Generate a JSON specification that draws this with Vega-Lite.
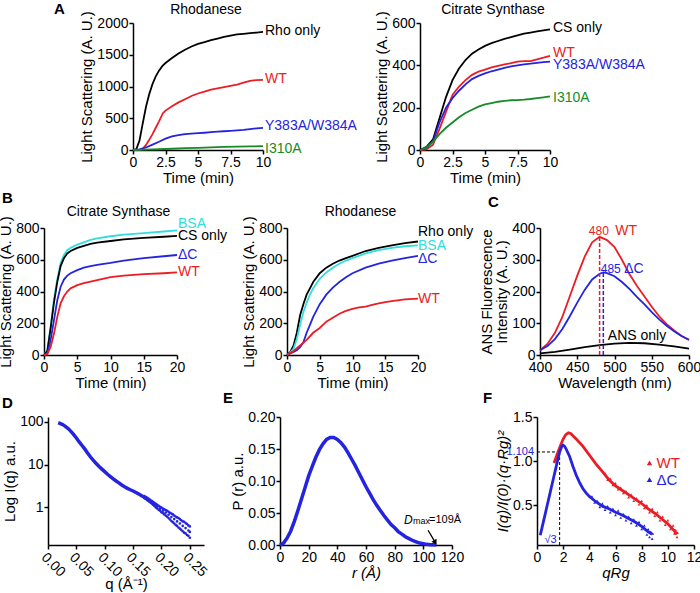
{
"$schema":"https://vega.github.io/schema/vega-lite/v6.json",
"padding":{"left":-2,"top":2,"right":0,"bottom":0},
"autosize":{"type":"pad"},
"config":{
 "font":"Liberation Sans",
 "view":{"stroke":null},
 "axis":{"grid":false,"domainColor":"#000","domainWidth":1.5,"tickColor":"#000","tickWidth":1.5,"tickSize":4,"labelFontSize":14,"labelColor":"#000","labelPadding":1,"titleFontSize":15,"titleFontWeight":"normal","titleColor":"#000","labelFlush":false,"labelOverlap":false},
 "axisX":{"titlePadding":1},
 "axisY":{"titlePadding":2},
 "title":{"fontSize":14,"fontWeight":"normal","color":"#000","offset":6,"frame":"group"},
 "text":{"fontSize":14,"baseline":"middle"},
 "line":{"strokeWidth":1.8}
},
"spacing":0,
"datasets":{
 "aRho":[
  {"s":"Rho only","t":0,"v":0},{"s":"Rho only","t":0.25,"v":10},{"s":"Rho only","t":0.5,"v":150},{"s":"Rho only","t":0.75,"v":420},{"s":"Rho only","t":1,"v":680},{"s":"Rho only","t":1.25,"v":880},{"s":"Rho only","t":1.5,"v":1040},{"s":"Rho only","t":1.75,"v":1160},{"s":"Rho only","t":2,"v":1250},{"s":"Rho only","t":2.25,"v":1320},{"s":"Rho only","t":2.5,"v":1370},{"s":"Rho only","t":3,"v":1450},{"s":"Rho only","t":3.5,"v":1520},{"s":"Rho only","t":4,"v":1580},{"s":"Rho only","t":4.5,"v":1630},{"s":"Rho only","t":5,"v":1670},{"s":"Rho only","t":5.5,"v":1700},{"s":"Rho only","t":6,"v":1730},{"s":"Rho only","t":6.5,"v":1755},{"s":"Rho only","t":7,"v":1780},{"s":"Rho only","t":7.5,"v":1800},{"s":"Rho only","t":8,"v":1820},{"s":"Rho only","t":8.5,"v":1830},{"s":"Rho only","t":9,"v":1840},{"s":"Rho only","t":9.5,"v":1850},{"s":"Rho only","t":10,"v":1860},
  {"s":"WT","t":0,"v":0},{"s":"WT","t":0.5,"v":0},{"s":"WT","t":0.75,"v":20},{"s":"WT","t":1,"v":80},{"s":"WT","t":1.25,"v":160},{"s":"WT","t":1.5,"v":250},{"s":"WT","t":1.75,"v":350},{"s":"WT","t":2,"v":450},{"s":"WT","t":2.3,"v":580},{"s":"WT","t":2.5,"v":620},{"s":"WT","t":3,"v":690},{"s":"WT","t":3.5,"v":750},{"s":"WT","t":4,"v":800},{"s":"WT","t":4.5,"v":850},{"s":"WT","t":5,"v":890},{"s":"WT","t":5.5,"v":920},{"s":"WT","t":6,"v":950},{"s":"WT","t":6.5,"v":970},{"s":"WT","t":7,"v":990},{"s":"WT","t":7.5,"v":1010},{"s":"WT","t":8,"v":1030},{"s":"WT","t":8.5,"v":1060},{"s":"WT","t":9,"v":1090},{"s":"WT","t":9.5,"v":1100},{"s":"WT","t":10,"v":1105},
  {"s":"Y383A/W384A","t":0,"v":0},{"s":"Y383A/W384A","t":0.5,"v":10},{"s":"Y383A/W384A","t":1,"v":40},{"s":"Y383A/W384A","t":1.5,"v":85},{"s":"Y383A/W384A","t":2,"v":130},{"s":"Y383A/W384A","t":2.5,"v":180},{"s":"Y383A/W384A","t":3,"v":215},{"s":"Y383A/W384A","t":3.5,"v":235},{"s":"Y383A/W384A","t":4,"v":250},{"s":"Y383A/W384A","t":4.5,"v":258},{"s":"Y383A/W384A","t":5,"v":265},{"s":"Y383A/W384A","t":5.5,"v":272},{"s":"Y383A/W384A","t":6,"v":280},{"s":"Y383A/W384A","t":6.5,"v":288},{"s":"Y383A/W384A","t":7,"v":295},{"s":"Y383A/W384A","t":7.5,"v":302},{"s":"Y383A/W384A","t":8,"v":310},{"s":"Y383A/W384A","t":8.5,"v":318},{"s":"Y383A/W384A","t":9,"v":330},{"s":"Y383A/W384A","t":9.5,"v":340},{"s":"Y383A/W384A","t":10,"v":350},
  {"s":"I310A","t":0,"v":0},{"s":"I310A","t":1,"v":5},{"s":"I310A","t":2,"v":12},{"s":"I310A","t":3,"v":20},{"s":"I310A","t":4,"v":28},{"s":"I310A","t":5,"v":35},{"s":"I310A","t":6,"v":42},{"s":"I310A","t":7,"v":48},{"s":"I310A","t":8,"v":52},{"s":"I310A","t":9,"v":56},{"s":"I310A","t":10,"v":60}
 ],
 "aRhoLab":[{"s":"Rho only","t":10,"v":1870},{"s":"WT","t":10,"v":1120},{"s":"Y383A/W384A","t":10,"v":375},{"s":"I310A","t":10,"v":20}],
 "aCS":[
  {"s":"CS only","t":0,"v":0},{"s":"CS only","t":0.5,"v":15},{"s":"CS only","t":1,"v":50},{"s":"CS only","t":1.5,"v":150},{"s":"CS only","t":2,"v":250},{"s":"CS only","t":2.5,"v":330},{"s":"CS only","t":3,"v":385},{"s":"CS only","t":3.5,"v":425},{"s":"CS only","t":4,"v":455},{"s":"CS only","t":4.5,"v":475},{"s":"CS only","t":5,"v":492},{"s":"CS only","t":5.5,"v":505},{"s":"CS only","t":6,"v":515},{"s":"CS only","t":6.5,"v":525},{"s":"CS only","t":7,"v":533},{"s":"CS only","t":7.5,"v":542},{"s":"CS only","t":8,"v":550},{"s":"CS only","t":8.5,"v":555},{"s":"CS only","t":9,"v":560},{"s":"CS only","t":9.5,"v":565},{"s":"CS only","t":10,"v":570},
  {"s":"WT","t":0,"v":0},{"s":"WT","t":0.5,"v":3},{"s":"WT","t":1,"v":25},{"s":"WT","t":1.5,"v":100},{"s":"WT","t":2,"v":180},{"s":"WT","t":2.5,"v":260},{"s":"WT","t":3,"v":300},{"s":"WT","t":3.5,"v":330},{"s":"WT","t":4,"v":355},{"s":"WT","t":4.5,"v":370},{"s":"WT","t":5,"v":380},{"s":"WT","t":5.5,"v":390},{"s":"WT","t":6,"v":398},{"s":"WT","t":6.5,"v":404},{"s":"WT","t":7,"v":410},{"s":"WT","t":7.5,"v":418},{"s":"WT","t":8,"v":420},{"s":"WT","t":8.5,"v":420},{"s":"WT","t":9,"v":428},{"s":"WT","t":9.5,"v":436},{"s":"WT","t":10,"v":445},
  {"s":"Y383A/W384A","t":0,"v":0},{"s":"Y383A/W384A","t":0.5,"v":10},{"s":"Y383A/W384A","t":1,"v":40},{"s":"Y383A/W384A","t":1.5,"v":130},{"s":"Y383A/W384A","t":2,"v":200},{"s":"Y383A/W384A","t":2.5,"v":245},{"s":"Y383A/W384A","t":3,"v":280},{"s":"Y383A/W384A","t":3.5,"v":310},{"s":"Y383A/W384A","t":4,"v":335},{"s":"Y383A/W384A","t":4.5,"v":350},{"s":"Y383A/W384A","t":5,"v":362},{"s":"Y383A/W384A","t":5.5,"v":372},{"s":"Y383A/W384A","t":6,"v":380},{"s":"Y383A/W384A","t":6.5,"v":388},{"s":"Y383A/W384A","t":7,"v":395},{"s":"Y383A/W384A","t":7.5,"v":400},{"s":"Y383A/W384A","t":8,"v":405},{"s":"Y383A/W384A","t":8.5,"v":408},{"s":"Y383A/W384A","t":9,"v":412},{"s":"Y383A/W384A","t":9.5,"v":415},{"s":"Y383A/W384A","t":10,"v":418},
  {"s":"I310A","t":0,"v":0},{"s":"I310A","t":0.5,"v":12},{"s":"I310A","t":1,"v":40},{"s":"I310A","t":1.5,"v":75},{"s":"I310A","t":2,"v":105},{"s":"I310A","t":2.5,"v":130},{"s":"I310A","t":3,"v":155},{"s":"I310A","t":3.5,"v":175},{"s":"I310A","t":4,"v":190},{"s":"I310A","t":4.5,"v":205},{"s":"I310A","t":5,"v":215},{"s":"I310A","t":5.5,"v":222},{"s":"I310A","t":6,"v":228},{"s":"I310A","t":6.5,"v":232},{"s":"I310A","t":7,"v":235},{"s":"I310A","t":7.5,"v":236},{"s":"I310A","t":8,"v":238},{"s":"I310A","t":8.5,"v":241},{"s":"I310A","t":9,"v":245},{"s":"I310A","t":9.5,"v":249},{"s":"I310A","t":10,"v":253}
 ],
 "aCSLab":[{"s":"CS only","t":10,"v":575},{"s":"WT","t":10,"v":460},{"s":"Y383A/W384A","t":10,"v":400},{"s":"I310A","t":10,"v":245}],
 "bCS":[
  {"s":"BSA","t":0,"v":0},{"s":"BSA","t":0.5,"v":30},{"s":"BSA","t":1,"v":180},{"s":"BSA","t":1.5,"v":350},{"s":"BSA","t":2,"v":480},{"s":"BSA","t":2.5,"v":580},{"s":"BSA","t":3,"v":630},{"s":"BSA","t":3.5,"v":660},{"s":"BSA","t":4,"v":675},{"s":"BSA","t":5,"v":695},{"s":"BSA","t":6,"v":710},{"s":"BSA","t":7,"v":725},{"s":"BSA","t":8,"v":735},{"s":"BSA","t":10,"v":748},{"s":"BSA","t":12,"v":758},{"s":"BSA","t":15,"v":768},{"s":"BSA","t":18,"v":778},{"s":"BSA","t":20,"v":785},
  {"s":"CS only","t":0,"v":0},{"s":"CS only","t":0.5,"v":25},{"s":"CS only","t":1,"v":170},{"s":"CS only","t":1.5,"v":330},{"s":"CS only","t":2,"v":460},{"s":"CS only","t":2.5,"v":560},{"s":"CS only","t":3,"v":610},{"s":"CS only","t":3.5,"v":640},{"s":"CS only","t":4,"v":655},{"s":"CS only","t":5,"v":675},{"s":"CS only","t":6,"v":688},{"s":"CS only","t":7,"v":700},{"s":"CS only","t":8,"v":708},{"s":"CS only","t":10,"v":718},{"s":"CS only","t":12,"v":728},{"s":"CS only","t":15,"v":738},{"s":"CS only","t":18,"v":745},{"s":"CS only","t":20,"v":750},
  {"s":"ΔC","t":0,"v":0},{"s":"ΔC","t":0.5,"v":10},{"s":"ΔC","t":1,"v":95},{"s":"ΔC","t":1.5,"v":220},{"s":"ΔC","t":2,"v":345},{"s":"ΔC","t":2.5,"v":430},{"s":"ΔC","t":3,"v":475},{"s":"ΔC","t":3.5,"v":500},{"s":"ΔC","t":4,"v":515},{"s":"ΔC","t":5,"v":535},{"s":"ΔC","t":6,"v":550},{"s":"ΔC","t":7,"v":560},{"s":"ΔC","t":8,"v":568},{"s":"ΔC","t":10,"v":580},{"s":"ΔC","t":12,"v":595},{"s":"ΔC","t":15,"v":610},{"s":"ΔC","t":18,"v":622},{"s":"ΔC","t":20,"v":630},
  {"s":"WT","t":0,"v":0},{"s":"WT","t":0.5,"v":5},{"s":"WT","t":1,"v":50},{"s":"WT","t":1.5,"v":135},{"s":"WT","t":2,"v":240},{"s":"WT","t":2.5,"v":325},{"s":"WT","t":3,"v":370},{"s":"WT","t":3.5,"v":400},{"s":"WT","t":4,"v":420},{"s":"WT","t":5,"v":440},{"s":"WT","t":6,"v":452},{"s":"WT","t":7,"v":462},{"s":"WT","t":8,"v":472},{"s":"WT","t":10,"v":490},{"s":"WT","t":12,"v":500},{"s":"WT","t":15,"v":510},{"s":"WT","t":18,"v":515},{"s":"WT","t":20,"v":520}
 ],
 "bCSLab":[{"s":"BSA","t":20,"v":827},{"s":"CS only","t":20,"v":751},{"s":"ΔC","t":20,"v":632},{"s":"WT","t":20,"v":520}],
 "bRho":[
  {"s":"Rho only","t":0,"v":0},{"s":"Rho only","t":0.5,"v":20},{"s":"Rho only","t":1,"v":60},{"s":"Rho only","t":1.5,"v":140},{"s":"Rho only","t":2,"v":250},{"s":"Rho only","t":2.5,"v":320},{"s":"Rho only","t":3,"v":380},{"s":"Rho only","t":3.5,"v":420},{"s":"Rho only","t":4,"v":460},{"s":"Rho only","t":5,"v":515},{"s":"Rho only","t":6,"v":550},{"s":"Rho only","t":7,"v":575},{"s":"Rho only","t":8,"v":595},{"s":"Rho only","t":9,"v":610},{"s":"Rho only","t":10,"v":625},{"s":"Rho only","t":12,"v":655},{"s":"Rho only","t":14,"v":675},{"s":"Rho only","t":16,"v":690},{"s":"Rho only","t":18,"v":705},{"s":"Rho only","t":20,"v":715},
  {"s":"BSA","t":0,"v":0},{"s":"BSA","t":0.5,"v":15},{"s":"BSA","t":1,"v":40},{"s":"BSA","t":1.5,"v":100},{"s":"BSA","t":2,"v":190},{"s":"BSA","t":2.5,"v":270},{"s":"BSA","t":3,"v":330},{"s":"BSA","t":3.5,"v":380},{"s":"BSA","t":4,"v":420},{"s":"BSA","t":5,"v":480},{"s":"BSA","t":6,"v":520},{"s":"BSA","t":7,"v":550},{"s":"BSA","t":8,"v":575},{"s":"BSA","t":9,"v":595},{"s":"BSA","t":10,"v":610},{"s":"BSA","t":12,"v":640},{"s":"BSA","t":14,"v":660},{"s":"BSA","t":16,"v":675},{"s":"BSA","t":18,"v":685},{"s":"BSA","t":20,"v":690},
  {"s":"ΔC","t":0,"v":0},{"s":"ΔC","t":1,"v":20},{"s":"ΔC","t":1.5,"v":30},{"s":"ΔC","t":2,"v":50},{"s":"ΔC","t":2.5,"v":80},{"s":"ΔC","t":3,"v":140},{"s":"ΔC","t":3.5,"v":190},{"s":"ΔC","t":4,"v":240},{"s":"ΔC","t":5,"v":320},{"s":"ΔC","t":6,"v":380},{"s":"ΔC","t":7,"v":425},{"s":"ΔC","t":8,"v":460},{"s":"ΔC","t":9,"v":490},{"s":"ΔC","t":10,"v":515},{"s":"ΔC","t":12,"v":550},{"s":"ΔC","t":14,"v":575},{"s":"ΔC","t":16,"v":595},{"s":"ΔC","t":18,"v":610},{"s":"ΔC","t":20,"v":625},
  {"s":"WT","t":0,"v":0},{"s":"WT","t":1,"v":25},{"s":"WT","t":2,"v":60},{"s":"WT","t":3,"v":95},{"s":"WT","t":4,"v":140},{"s":"WT","t":5,"v":170},{"s":"WT","t":6,"v":210},{"s":"WT","t":7,"v":235},{"s":"WT","t":8,"v":260},{"s":"WT","t":9,"v":278},{"s":"WT","t":10,"v":290},{"s":"WT","t":11,"v":300},{"s":"WT","t":12,"v":305},{"s":"WT","t":13,"v":315},{"s":"WT","t":14,"v":325},{"s":"WT","t":15,"v":333},{"s":"WT","t":16,"v":340},{"s":"WT","t":18,"v":350},{"s":"WT","t":20,"v":355}
 ],
 "bRhoLab":[{"s":"Rho only","t":20,"v":775},{"s":"BSA","t":20,"v":686},{"s":"ΔC","t":20,"v":602},{"s":"WT","t":20,"v":354}],
 "cANS":[
  {"s":"WT","w":400,"v":15},{"s":"WT","w":410,"v":35},{"s":"WT","w":420,"v":70},{"s":"WT","w":430,"v":120},{"s":"WT","w":440,"v":185},{"s":"WT","w":450,"v":250},{"s":"WT","w":460,"v":310},{"s":"WT","w":470,"v":355},{"s":"WT","w":480,"v":372},{"s":"WT","w":490,"v":362},{"s":"WT","w":500,"v":340},{"s":"WT","w":510,"v":300},{"s":"WT","w":520,"v":255},{"s":"WT","w":530,"v":218},{"s":"WT","w":540,"v":185},{"s":"WT","w":550,"v":152},{"s":"WT","w":560,"v":122},{"s":"WT","w":570,"v":97},{"s":"WT","w":580,"v":77},{"s":"WT","w":590,"v":60},{"s":"WT","w":600,"v":47},
  {"s":"ΔC","w":400,"v":15},{"s":"ΔC","w":410,"v":28},{"s":"ΔC","w":420,"v":50},{"s":"ΔC","w":430,"v":82},{"s":"ΔC","w":440,"v":122},{"s":"ΔC","w":450,"v":165},{"s":"ΔC","w":460,"v":205},{"s":"ΔC","w":470,"v":238},{"s":"ΔC","w":480,"v":256},{"s":"ΔC","w":485,"v":260},{"s":"ΔC","w":490,"v":258},{"s":"ΔC","w":500,"v":248},{"s":"ΔC","w":510,"v":230},{"s":"ΔC","w":520,"v":208},{"s":"ΔC","w":530,"v":183},{"s":"ΔC","w":540,"v":160},{"s":"ΔC","w":550,"v":135},{"s":"ΔC","w":560,"v":112},{"s":"ΔC","w":570,"v":92},{"s":"ΔC","w":580,"v":75},{"s":"ΔC","w":590,"v":60},{"s":"ΔC","w":600,"v":48},
  {"s":"ANS only","w":400,"v":5},{"s":"ANS only","w":420,"v":10},{"s":"ANS only","w":440,"v":17},{"s":"ANS only","w":460,"v":25},{"s":"ANS only","w":480,"v":31},{"s":"ANS only","w":500,"v":36},{"s":"ANS only","w":520,"v":38},{"s":"ANS only","w":540,"v":37},{"s":"ANS only","w":560,"v":33},{"s":"ANS only","w":580,"v":27},{"s":"ANS only","w":600,"v":20}
 ],
 "cRule":[{"s":"WT","w":480,"v":0,"v2":372},{"s":"ΔC","w":485,"v":0,"v2":260}],
 "cNum":[{"s":"WT","w":479,"v":391,"txt":"480"},{"s":"ΔC","w":495,"v":271,"txt":"485"}],
 "cName":[{"s":"WT","w":501,"v":391,"txt":"WT"},{"s":"ΔC","w":513,"v":271,"txt":"ΔC"},{"s":"ANS only","w":491,"v":60,"txt":"ANS only"}],
 "dSaxs":[
  {"q":0.018,"i":96},{"q":0.02,"i":94},{"q":0.025,"i":88},{"q":0.03,"i":80},{"q":0.035,"i":71},{"q":0.04,"i":61},{"q":0.045,"i":51},{"q":0.05,"i":42},{"q":0.055,"i":34},{"q":0.06,"i":28},{"q":0.065,"i":23},{"q":0.07,"i":18.5},{"q":0.075,"i":15},{"q":0.08,"i":12.5},{"q":0.085,"i":10.5},{"q":0.09,"i":9.0},{"q":0.095,"i":7.8},{"q":0.1,"i":6.8},{"q":0.105,"i":5.9},{"q":0.11,"i":5.2},{"q":0.115,"i":4.6},{"q":0.12,"i":4.1},{"q":0.125,"i":3.7},{"q":0.13,"i":3.3},{"q":0.135,"i":3.0},{"q":0.14,"i":2.75},{"q":0.145,"i":2.55},{"q":0.15,"i":2.38},{"q":0.155,"i":2.2},{"q":0.16,"i":2.02},{"q":0.165,"i":1.85},{"q":0.17,"i":1.7},{"q":0.175,"i":1.54},{"q":0.18,"i":1.38},{"q":0.185,"i":1.22},{"q":0.19,"i":1.08}
 ],
 "dNoise":[
  {"q":0.17,"i":1.62},{"q":0.17,"i":1.8},{"q":0.1725,"i":1.55},{"q":0.1725,"i":1.72},{"q":0.175,"i":1.45},{"q":0.175,"i":1.64},{"q":0.1775,"i":1.38},{"q":0.1775,"i":1.56},{"q":0.1775,"i":1.48},{"q":0.18,"i":1.3},{"q":0.18,"i":1.47},{"q":0.1825,"i":1.22},{"q":0.1825,"i":1.4},{"q":0.1825,"i":1.33},{"q":0.185,"i":1.13},{"q":0.185,"i":1.32},{"q":0.1875,"i":1.06},{"q":0.1875,"i":1.26},{"q":0.1875,"i":1.16},{"q":0.19,"i":0.98},{"q":0.19,"i":1.19},{"q":0.1925,"i":0.93},{"q":0.1925,"i":1.12},{"q":0.1925,"i":1.02},{"q":0.195,"i":0.86},{"q":0.195,"i":1.07},{"q":0.1975,"i":0.82},{"q":0.1975,"i":1.01},{"q":0.1975,"i":0.9},{"q":0.2,"i":0.75},{"q":0.2,"i":0.97},{"q":0.2025,"i":0.72},{"q":0.2025,"i":0.92},{"q":0.2025,"i":0.82},{"q":0.205,"i":0.67},{"q":0.205,"i":0.88},{"q":0.2075,"i":0.63},{"q":0.2075,"i":0.85},{"q":0.2075,"i":0.74},{"q":0.21,"i":0.59},{"q":0.21,"i":0.82},{"q":0.2125,"i":0.55},{"q":0.2125,"i":0.77},{"q":0.2125,"i":0.66},{"q":0.215,"i":0.51},{"q":0.215,"i":0.73},{"q":0.2175,"i":0.47},{"q":0.2175,"i":0.7},{"q":0.2175,"i":0.58},{"q":0.22,"i":0.44},{"q":0.22,"i":0.67},{"q":0.2225,"i":0.41},{"q":0.2225,"i":0.63},{"q":0.2225,"i":0.52},{"q":0.225,"i":0.38},{"q":0.225,"i":0.6},{"q":0.2275,"i":0.36},{"q":0.2275,"i":0.57},{"q":0.2275,"i":0.46},{"q":0.23,"i":0.33},{"q":0.23,"i":0.55},{"q":0.2325,"i":0.31},{"q":0.2325,"i":0.52},{"q":0.2325,"i":0.41},{"q":0.235,"i":0.29},{"q":0.235,"i":0.49},{"q":0.2375,"i":0.27},{"q":0.2375,"i":0.46},{"q":0.2375,"i":0.36},{"q":0.24,"i":0.25},{"q":0.24,"i":0.45},{"q":0.2425,"i":0.24},{"q":0.2425,"i":0.42},{"q":0.2425,"i":0.32},{"q":0.245,"i":0.22},{"q":0.245,"i":0.4},{"q":0.2475,"i":0.21},{"q":0.2475,"i":0.37},{"q":0.2475,"i":0.28},{"q":0.25,"i":0.19},{"q":0.25,"i":0.35},{"q":0.25,"i":0.26}
 ],
 "eP":[
  {"r":0,"p":0},{"r":2.5,"p":0.003},{"r":5,"p":0.011},{"r":7.5,"p":0.022},{"r":10,"p":0.037},{"r":12.5,"p":0.054},{"r":15,"p":0.072},{"r":17.5,"p":0.09},{"r":20,"p":0.108},{"r":22.5,"p":0.123},{"r":25,"p":0.137},{"r":27.5,"p":0.149},{"r":30,"p":0.158},{"r":32.5,"p":0.165},{"r":35,"p":0.168},{"r":37.5,"p":0.168},{"r":40,"p":0.165},{"r":42.5,"p":0.16},{"r":45,"p":0.153},{"r":47.5,"p":0.144},{"r":50,"p":0.134},{"r":52.5,"p":0.124},{"r":55,"p":0.113},{"r":57.5,"p":0.102},{"r":60,"p":0.091},{"r":62.5,"p":0.081},{"r":65,"p":0.071},{"r":67.5,"p":0.062},{"r":70,"p":0.054},{"r":72.5,"p":0.046},{"r":75,"p":0.039},{"r":77.5,"p":0.032},{"r":80,"p":0.027},{"r":82.5,"p":0.021},{"r":85,"p":0.017},{"r":87.5,"p":0.013},{"r":90,"p":0.01},{"r":92.5,"p":0.007},{"r":95,"p":0.005},{"r":97.5,"p":0.003},{"r":100,"p":0.002},{"r":102.5,"p":0.001},{"r":105,"p":0.0005},{"r":107.5,"p":0.0002},{"r":109,"p":0}
 ],
 "eNote":[{"r":86.5,"p":0.039}],
 "eArrow":[{"r":103.3,"p":0.023,"r2":108.3,"p2":0.004}],
 "fK":[
  {"s":"WT","k":1.3,"v":0.98},{"s":"WT","k":1.5,"v":1.06},{"s":"WT","k":1.75,"v":1.16},{"s":"WT","k":2.0,"v":1.25},{"s":"WT","k":2.2,"v":1.3},{"s":"WT","k":2.4,"v":1.32},{"s":"WT","k":2.6,"v":1.31},{"s":"WT","k":2.8,"v":1.28},{"s":"WT","k":3.0,"v":1.25},{"s":"WT","k":3.5,"v":1.17},{"s":"WT","k":4.0,"v":1.07},{"s":"WT","k":4.5,"v":0.97},{"s":"WT","k":5.0,"v":0.88},{"s":"WT","k":5.5,"v":0.79},{"s":"WT","k":6.0,"v":0.72},{"s":"WT","k":6.5,"v":0.67},{"s":"WT","k":7.0,"v":0.62},{"s":"WT","k":7.5,"v":0.57},{"s":"WT","k":8.0,"v":0.52},{"s":"WT","k":8.5,"v":0.46},{"s":"WT","k":9.0,"v":0.41},{"s":"WT","k":9.5,"v":0.35},{"s":"WT","k":10.0,"v":0.29},{"s":"WT","k":10.5,"v":0.21},{"s":"WT","k":10.7,"v":0.17},
  {"s":"ΔC","k":0.25,"v":0.16},{"s":"ΔC","k":0.5,"v":0.32},{"s":"ΔC","k":0.75,"v":0.48},{"s":"ΔC","k":1.0,"v":0.64},{"s":"ΔC","k":1.25,"v":0.8},{"s":"ΔC","k":1.5,"v":0.96},{"s":"ΔC","k":1.73,"v":1.104},{"s":"ΔC","k":1.9,"v":1.17},{"s":"ΔC","k":2.0,"v":1.18},{"s":"ΔC","k":2.1,"v":1.17},{"s":"ΔC","k":2.25,"v":1.13},{"s":"ΔC","k":2.5,"v":1.05},{"s":"ΔC","k":2.75,"v":0.94},{"s":"ΔC","k":3.0,"v":0.84},{"s":"ΔC","k":3.25,"v":0.76},{"s":"ΔC","k":3.5,"v":0.69},{"s":"ΔC","k":3.75,"v":0.64},{"s":"ΔC","k":4.0,"v":0.6},{"s":"ΔC","k":4.5,"v":0.54},{"s":"ΔC","k":5.0,"v":0.49},{"s":"ΔC","k":5.5,"v":0.46},{"s":"ΔC","k":6.0,"v":0.42},{"s":"ΔC","k":6.5,"v":0.39},{"s":"ΔC","k":7.0,"v":0.35},{"s":"ΔC","k":7.5,"v":0.31},{"s":"ΔC","k":8.0,"v":0.26},{"s":"ΔC","k":8.5,"v":0.2},{"s":"ΔC","k":8.8,"v":0.17}
 ],
 "fNoise":[
  {"s":"WT","k":5.2,"v":0.86},{"s":"WT","k":5.4,"v":0.79},{"s":"WT","k":5.6,"v":0.8},{"s":"WT","k":5.8,"v":0.73},{"s":"WT","k":6.0,"v":0.75},{"s":"WT","k":6.2,"v":0.68},{"s":"WT","k":6.4,"v":0.7},{"s":"WT","k":6.6,"v":0.64},{"s":"WT","k":6.8,"v":0.66},{"s":"WT","k":7.0,"v":0.59},{"s":"WT","k":7.2,"v":0.62},{"s":"WT","k":7.4,"v":0.55},{"s":"WT","k":7.6,"v":0.58},{"s":"WT","k":7.8,"v":0.51},{"s":"WT","k":8.0,"v":0.55},{"s":"WT","k":8.2,"v":0.47},{"s":"WT","k":8.4,"v":0.5},{"s":"WT","k":8.6,"v":0.42},{"s":"WT","k":8.8,"v":0.46},{"s":"WT","k":9.0,"v":0.38},{"s":"WT","k":9.2,"v":0.42},{"s":"WT","k":9.4,"v":0.33},{"s":"WT","k":9.6,"v":0.37},{"s":"WT","k":9.8,"v":0.28},{"s":"WT","k":10.0,"v":0.33},{"s":"WT","k":10.2,"v":0.23},{"s":"WT","k":10.4,"v":0.27},{"s":"WT","k":10.5,"v":0.18},{"s":"WT","k":10.6,"v":0.22},{"s":"WT","k":10.7,"v":0.14},{"s":"WT","k":10.75,"v":0.19},
  {"s":"ΔC","k":4.2,"v":0.6},{"s":"ΔC","k":4.4,"v":0.53},{"s":"ΔC","k":4.6,"v":0.55},{"s":"ΔC","k":4.8,"v":0.48},{"s":"ΔC","k":5.0,"v":0.52},{"s":"ΔC","k":5.2,"v":0.45},{"s":"ΔC","k":5.4,"v":0.49},{"s":"ΔC","k":5.6,"v":0.42},{"s":"ΔC","k":5.8,"v":0.46},{"s":"ΔC","k":6.0,"v":0.39},{"s":"ΔC","k":6.2,"v":0.44},{"s":"ΔC","k":6.4,"v":0.36},{"s":"ΔC","k":6.6,"v":0.4},{"s":"ΔC","k":6.8,"v":0.33},{"s":"ΔC","k":7.0,"v":0.37},{"s":"ΔC","k":7.2,"v":0.3},{"s":"ΔC","k":7.4,"v":0.34},{"s":"ΔC","k":7.6,"v":0.27},{"s":"ΔC","k":7.8,"v":0.31},{"s":"ΔC","k":8.0,"v":0.23},{"s":"ΔC","k":8.2,"v":0.27},{"s":"ΔC","k":8.4,"v":0.17},{"s":"ΔC","k":8.5,"v":0.23},{"s":"ΔC","k":8.6,"v":0.14},{"s":"ΔC","k":8.7,"v":0.2},{"s":"ΔC","k":8.8,"v":0.12},{"s":"ΔC","k":8.85,"v":0.18}
 ],
 "fRule":[{"k":0,"k2":1.73,"v":1.104,"v2":1.104},{"k":1.73,"k2":1.73,"v":0.05,"v2":1.104}],
 "fNote":[{"k":0,"v":1.104,"txt":"1.104"},{"k":1.73,"v":0.106,"txt":"√3"}],
 "fLeg":[{"s":"WT","k":8.6,"v":0.98},{"s":"ΔC","k":8.6,"v":0.79}]
},
"vconcat":[
 {"bounds":"flush","spacing":0,"resolve":{"scale":{"color":"independent"}},"hconcat":[
  {"width":132,"height":168,"title":{"text":"A","anchor":"start","dx":53,"offset":6,"fontWeight":"bold","fontSize":15},"data":{"values":[{}]},"mark":{"type":"point","opacity":0},"encoding":{}},
  {"width":130,"height":127,"title":{"text":"Rhodanese","dx":8,"offset":-6},
   "encoding":{"x":{"field":"t","type":"quantitative","scale":{"domain":[0,10],"nice":false},"axis":{"values":[0,2.5,5,7.5,10],"labelExpr":"format(datum.value,'~g')","title":"Time (min)"}},
    "y":{"field":"v","type":"quantitative","scale":{"domain":[0,2000],"nice":false},"axis":{"values":[0,500,1000,1500,2000],"format":"d","title":"Light Scattering (A. U.)"}},
    "color":{"field":"s","type":"nominal","scale":{"domain":["Rho only","WT","Y383A/W384A","I310A"],"range":["#000000","#ec1c24","#2424e0","#168a28"]},"legend":null}},
   "layer":[{"data":{"name":"aRho"},"mark":"line"},{"data":{"name":"aRhoLab"},"mark":{"type":"text","align":"left","dx":2},"encoding":{"text":{"field":"s"}}}]},
  {"width":157,"height":127,"data":{"values":[{}]},"mark":{"type":"point","opacity":0},"encoding":{}},
  {"width":130,"height":127,"title":{"text":"Citrate Synthase","dx":8,"offset":-6},
   "encoding":{"x":{"field":"t","type":"quantitative","scale":{"domain":[0,10],"nice":false},"axis":{"values":[0,2.5,5,7.5,10],"labelExpr":"format(datum.value,'~g')","title":"Time (min)"}},
    "y":{"field":"v","type":"quantitative","scale":{"domain":[0,600],"nice":false},"axis":{"values":[0,200,400,600],"format":"d","title":"Light Scattering (A. U.)"}},
    "color":{"field":"s","type":"nominal","scale":{"domain":["CS only","WT","Y383A/W384A","I310A"],"range":["#000000","#ec1c24","#2424e0","#168a28"]},"legend":null}},
   "layer":[{"data":{"name":"aCS"},"mark":"line"},{"data":{"name":"aCSLab"},"mark":{"type":"text","align":"left","dx":3},"encoding":{"text":{"field":"s"}}}]}
 ]},
 {"bounds":"flush","spacing":0,"resolve":{"scale":{"color":"independent"}},"hconcat":[
  {"width":43,"height":163,"title":{"text":"B","anchor":"start","dx":1,"offset":22,"fontWeight":"bold","fontSize":15},"data":{"values":[{}]},"mark":{"type":"point","opacity":0},"encoding":{}},
  {"width":133,"height":127,"title":{"text":"Citrate Synthase","dx":8,"offset":-3},
   "encoding":{"x":{"field":"t","type":"quantitative","scale":{"domain":[0,20],"nice":false},"axis":{"values":[0,5,10,15,20],"title":"Time (min)"}},
    "y":{"field":"v","type":"quantitative","scale":{"domain":[0,800],"nice":false},"axis":{"values":[0,200,400,600,800],"format":"d","title":"Light Scattering (A. U.)"}},
    "color":{"field":"s","type":"nominal","scale":{"domain":["BSA","CS only","ΔC","WT"],"range":["#30dede","#000000","#2424e0","#ec1c24"]},"legend":null}},
   "layer":[{"data":{"name":"bCS"},"mark":"line"},{"data":{"name":"bCSLab"},"mark":{"type":"text","align":"left","dx":1},"encoding":{"text":{"field":"s"}}}]},
  {"width":110,"height":127,"data":{"values":[{}]},"mark":{"type":"point","opacity":0},"encoding":{}},
  {"width":131,"height":127,"title":{"text":"Rhodanese","dx":8,"offset":-3},
   "encoding":{"x":{"field":"t","type":"quantitative","scale":{"domain":[0,20],"nice":false},"axis":{"values":[0,5,10,15,20],"title":"Time (min)"}},
    "y":{"field":"v","type":"quantitative","scale":{"domain":[0,800],"nice":false},"axis":{"values":[0,200,400,600,800],"format":"d","title":"Light Scattering (A. U.)"}},
    "color":{"field":"s","type":"nominal","scale":{"domain":["Rho only","BSA","ΔC","WT"],"range":["#000000","#30dede","#2424e0","#ec1c24"]},"legend":null}},
   "layer":[{"data":{"name":"bRho"},"mark":"line"},{"data":{"name":"bRhoLab"},"mark":{"type":"text","align":"left","dx":0},"encoding":{"text":{"field":"s"}}}]},
  {"width":122,"height":127,"data":{"values":[{}]},"mark":{"type":"point","opacity":0},"encoding":{}},
  {"width":149,"height":127,"title":{"text":"C","anchor":"start","dx":-52,"offset":11,"fontWeight":"bold","fontSize":15},
   "encoding":{"x":{"field":"w","type":"quantitative","scale":{"domain":[400,600],"nice":false},"axis":{"values":[400,450,500,550,600],"title":"Wavelength (nm)"}},
    "y":{"field":"v","type":"quantitative","scale":{"domain":[0,400],"nice":false},"axis":{"values":[0,100,200,300,400],"title":["ANS Fluorescence","Intensity (A. U.)"],"titleLineHeight":15}},
    "color":{"field":"s","type":"nominal","scale":{"domain":["WT","ΔC","ANS only"],"range":["#ec1c24","#2424e0","#000000"]},"legend":null}},
   "layer":[
    {"data":{"name":"cANS"},"mark":"line"},
    {"data":{"name":"cRule"},"mark":{"type":"rule","strokeDash":[4,2],"strokeWidth":1.5},"encoding":{"y2":{"field":"v2"}}},
    {"data":{"name":"cNum"},"mark":{"type":"text","align":"center","fontSize":12},"encoding":{"text":{"field":"txt"}}},
    {"data":{"name":"cName"},"mark":{"type":"text","align":"left","fontSize":14},"encoding":{"text":{"field":"txt"}}}
   ]}
 ]},
 {"bounds":"flush","spacing":0,"hconcat":[
  {"width":47,"height":128,"data":{"values":[{}]},"mark":{"type":"point","opacity":0},"encoding":{}},
  {"width":156,"height":128,"title":{"text":"D","anchor":"start","dx":-46,"offset":4,"fontWeight":"bold","fontSize":15},
   "encoding":{"x":{"field":"q","type":"quantitative","scale":{"domain":[0,0.275],"nice":false},"axis":{"values":[0,0.05,0.1,0.15,0.2,0.25],"format":".2f","labelAngle":45,"title":"q (Å⁻¹)","titlePadding":-3}},
    "y":{"field":"i","type":"quantitative","scale":{"type":"log","domain":[0.128,131],"nice":false},"axis":{"values":[1,10,100],"format":"~g","title":"Log I(q) a.u."}}},
   "layer":[
    {"data":{"name":"dSaxs"},"mark":{"type":"line","color":"#2424e0","strokeWidth":3.5}},
    {"data":{"name":"dNoise"},"mark":{"type":"point","filled":true,"color":"#2424e0","size":7,"opacity":1}}
   ]},
  {"width":76,"height":128,"data":{"values":[{}]},"mark":{"type":"point","opacity":0},"encoding":{}},
  {"width":172,"height":128,"title":{"text":"E","anchor":"start","dx":-57,"offset":4,"fontWeight":"bold","fontSize":15},
   "encoding":{"x":{"field":"r","type":"quantitative","scale":{"domain":[0,120],"nice":false},"axis":{"values":[0,20,40,60,80,100,120],"title":"r (Å)","titleFontStyle":"italic"}},
    "y":{"field":"p","type":"quantitative","scale":{"domain":[0,0.2],"nice":false},"axis":{"values":[0,0.05,0.1,0.15,0.2],"format":".2f","title":"P (r) a.u."}}},
   "layer":[
    {"data":{"name":"eP"},"mark":{"type":"line","color":"#2424e0","strokeWidth":3.5}},
    {"data":{"name":"eNote"},"mark":{"type":"text","align":"left","fontSize":12,"fontStyle":"italic","color":"#000"},"encoding":{"text":{"value":"D"}}},
    {"data":{"name":"eNote"},"mark":{"type":"text","align":"left","fontSize":9,"dx":9,"dy":1,"color":"#000"},"encoding":{"text":{"value":"max"}}},
    {"data":{"name":"eNote"},"mark":{"type":"text","align":"left","fontSize":11,"dx":25,"color":"#000"},"encoding":{"text":{"value":"=109Å"}}},
    {"data":{"name":"eArrow"},"mark":{"type":"rule","color":"#000","strokeWidth":1.3},"encoding":{"x2":{"field":"r2"},"y2":{"field":"p2"}}},
    {"data":{"name":"eArrow"},"mark":{"type":"point","shape":"triangle-down","filled":true,"color":"#000","size":35,"angle":331,"opacity":1},"encoding":{"x":{"field":"r2","type":"quantitative"},"y":{"field":"p2","type":"quantitative"}}}
   ]},
  {"width":85,"height":128,"data":{"values":[{}]},"mark":{"type":"point","opacity":0},"encoding":{}},
  {"width":157,"height":128,"title":{"text":"F","anchor":"start","dx":-54,"offset":4,"fontWeight":"bold","fontSize":15},
   "encoding":{"x":{"field":"k","type":"quantitative","scale":{"domain":[0,12],"nice":false},"axis":{"values":[0,2,4,6,8,10,12],"title":"qRg","titleFontStyle":"italic"}},
    "y":{"field":"v","type":"quantitative","scale":{"domain":[0.05,1.5],"nice":false,"zero":false},"axis":{"values":[0.5,1,1.5],"format":".1f","title":"I(q)/I(0)·(q·Rg)²","titleFontStyle":"italic"}},
    "color":{"field":"s","type":"nominal","scale":{"domain":["WT","ΔC"],"range":["#ec1c24","#2424e0"]},"legend":null}},
   "layer":[
    {"data":{"name":"fRule"},"mark":{"type":"rule","strokeDash":[3,2],"strokeWidth":1},"encoding":{"x2":{"field":"k2"},"y2":{"field":"v2"},"color":{"value":"#000"}}},
    {"data":{"name":"fK"},"mark":{"type":"line","strokeWidth":2.8}},
    {"data":{"name":"fNoise"},"mark":{"type":"point","shape":"triangle-up","filled":true,"size":8,"opacity":1}},
    {"data":{"name":"fNote"},"mark":{"type":"text","align":"right","dx":-3,"fontSize":11},"encoding":{"text":{"field":"txt"},"color":{"value":"#2424e0"}}},
    {"data":{"name":"fLeg"},"mark":{"type":"point","shape":"triangle-up","filled":true,"size":30,"opacity":1}},
    {"data":{"name":"fLeg"},"mark":{"type":"text","align":"left","dx":7,"fontSize":15},"encoding":{"text":{"field":"s"}}}
   ]}
 ]}
]
}
